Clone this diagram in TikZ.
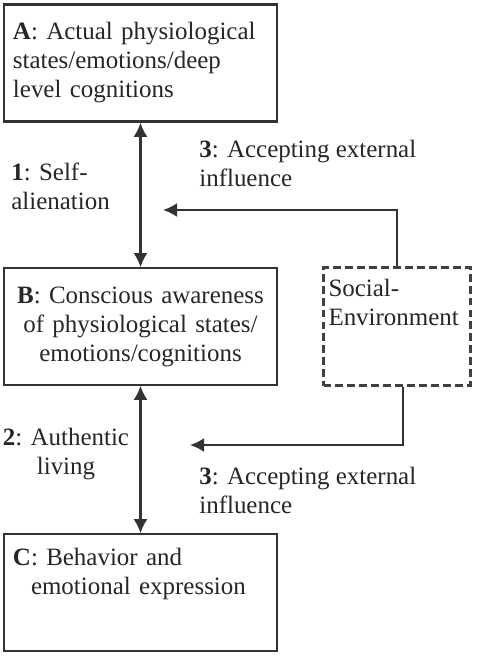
\documentclass[tikz,border=0pt]{standalone}
\usepackage{fontspec}
\setmainfont{Liberation Serif}
\usetikzlibrary{positioning,arrows.meta}

\begin{document}
\begin{tikzpicture}[node distance=5.27cm, auto,
    font=\fontsize{14.2}{16.5}\selectfont, text=black!85,
    >={Latex[length=8pt,width=8pt]},
    block/.style={rectangle, draw=black!80, line width=1.2pt, text width=5.1cm, inner xsep=0.18cm, minimum width=5.46cm, minimum height=2.33cm},
    envbox/.style={rectangle, draw=black!75, line width=1.2pt, dash pattern=on 4.5pt off 2.3pt, text width=2.74cm, inner xsep=0.1cm, minimum width=2.94cm, minimum height=2.36cm, align=left},
    lab/.style={inner sep=0pt},
    line/.style={draw=black!80, ->, line width=1.3pt}]

    \useasboundingbox (0,0) rectangle (9.54,-13.14);

    \node [block, line width=1.7pt, align=left] (A) at (2.81,-1.26) {\textbf{A}: Actual physiological\\states/emotions/deep\\level cognitions};
    \node [block, below of=A, align=center] (B) {\textbf{B}: Conscious awareness\\of physiological states/\\emotions/cognitions};
    \node [block, below of=B, node distance=5.32cm, align=left, text depth=1.41cm] (C) {\textbf{C}: Behavior and\\\hspace*{0.36cm}emotional expression};
    \node [envbox, right of=B, node distance=5.13cm, text depth=1.55cm] (soc) {Social-\\Environment};

    \coordinate (in1) at (3.26,-4.2);
    \coordinate (in2) at (3.8,-8.9);

    \node [lab, anchor=north west, align=left] (self) at (0.22,-3.25) {\textbf{1}: Self-\\alienation};
    \node [lab, anchor=north, align=center] (auth) at (1.32,-8.55) {\textbf{2}: Authentic\\living};
    \node [lab, anchor=north west, align=left] (ext1) at (3.98,-2.79) {\textbf{3}: Accepting external\\influence};
    \node [lab, anchor=north west, align=left] (ext2) at (3.98,-9.33) {\textbf{3}: Accepting external\\influence};

    \path [line, <->] (A) -- (B);
    \path [line, <->] (B) -- (C);
    \path [line] (soc.north) |- (in1);
    \path [line] ([xshift=0.12cm]soc.south) |- (in2);
\end{tikzpicture}
\end{document}
